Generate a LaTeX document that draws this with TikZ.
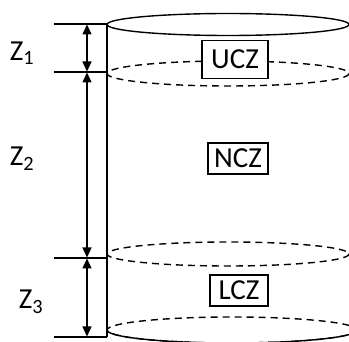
\documentclass[tikz,border=0pt]{standalone}
\usepackage{fontspec}
\setmainfont{Carlito}
\usetikzlibrary{arrows.meta}
\begin{document}
\begin{tikzpicture}[x=1pt,y=-1pt,
  solidline/.style={line width=1.4pt},
  dashline/.style={line width=1.4pt, dash pattern=on 7pt off 5pt},
  zonebox/.style={draw, line width=1.4pt, fill=white, inner sep=0pt, font=\fontsize{29}{29}\selectfont},
  dimarrow/.style={line width=1.4pt, {Triangle[length=10pt,width=9pt]}-{Triangle[length=10pt,width=9pt]}, shorten <=0.5pt, shorten >=0.5pt},
  zlabel/.style={font=\fontsize{29}{29}\selectfont}]
\useasboundingbox (0,0) rectangle (349,342);
\clip (0,0) rectangle (349,342);
% reference levels
\coordinate (l1) at (54,24);
\coordinate (l2) at (54,72);
\coordinate (l3) at (54,258);
\coordinate (l4) at (54,337);
\coordinate (c1) at (107,24);
\coordinate (c2) at (107,72);
\coordinate (c3) at (107,258);
\coordinate (c4) at (107,337);
\coordinate (a1) at (87,24);
\coordinate (a2) at (87,72);
\coordinate (a3) at (87,258);
\coordinate (a4) at (87,337);
% horizontal lines
\draw[solidline] (l1) -- (c1);
\draw[solidline] (l2) -- (c2);
\draw[solidline] (l3) -- (c3);
\draw[solidline] (l4) -- (c4);
% cylinder left side
\draw[line width=1.5pt] (c1) -- (c4);
% ellipses
\draw[solidline] (228,24.5) ellipse [x radius=121, y radius=11];
\draw[dashline] (228,73.5) ellipse [x radius=121, y radius=12.5];
\draw[dashline] (228,254) ellipse [x radius=121, y radius=12];
\draw[dashline] (232,330) ellipse [x radius=125, y radius=13];
\draw[solidline] (107,330) arc[start angle=180, end angle=0, x radius=125, y radius=13];
% dimension arrows
\draw[dimarrow] (a1) -- (a2);
\draw[dimarrow] (a2) -- (a3);
\draw[dimarrow] (a3) -- (a4);
% labels
\node[zlabel] (z1) at (22,53) {Z\textsubscript{1}};
\node[zlabel] (z2) at (22,159) {Z\textsubscript{2}};
\node[zlabel] (z3) at (31,302) {Z\textsubscript{3}};
% zone boxes
\node[zonebox, minimum width=66pt, minimum height=38pt] (ucz) at (235,59.5) {UCZ};
\node[zonebox, minimum width=60pt, minimum height=31pt] (ncz) at (238,158.5) {NCZ};
\node[zonebox, minimum width=58pt, minimum height=31pt] (lcz) at (239,290.5) {LCZ};
\end{tikzpicture}
\end{document}
